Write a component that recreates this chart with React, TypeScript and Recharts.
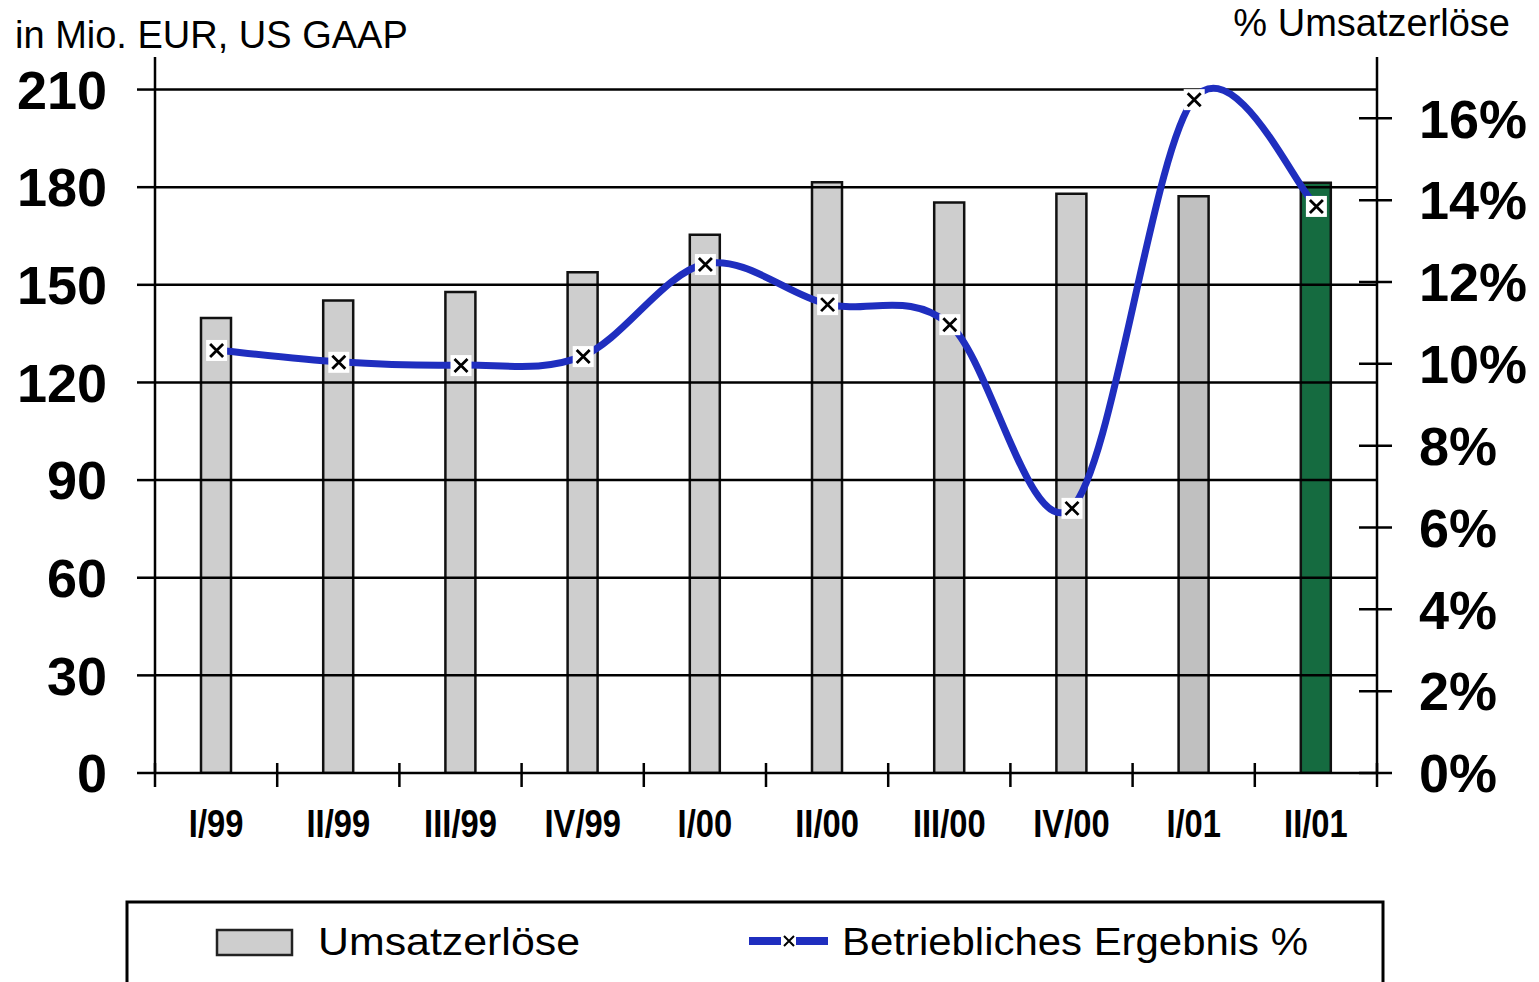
import React from 'react';
import { ComposedChart, Bar, Line, XAxis, YAxis, ReferenceLine, Cell } from 'recharts';

const quarters = ['I/99', 'II/99', 'III/99', 'IV/99', 'I/00', 'II/00', 'III/00', 'IV/00', 'I/01', 'II/01'];
const umsatz = [139.8, 145.2, 147.8, 153.9, 165.4, 181.5, 175.3, 178.0, 177.2, 181.4];
const ergebnis = [10.34, 10.05, 9.97, 10.19, 12.44, 11.46, 10.97, 6.48, 16.47, 13.86];
const leftTicks = [0, 30, 60, 90, 120, 150, 180, 210];
const rightTicks = [0, 2, 4, 6, 8, 10, 12, 14, 16];

const barFills = ['#cecece', '#cecece', '#cecece', '#cecece', '#cecece', '#cecece', '#cecece', '#cecece', '#c0c0c0', '#156b40'];

const data = quarters.map((q, i) => ({ q, umsatz: umsatz[i], ergebnis: ergebnis[i] }));

const BLUE = '#1f2ebf';
const FONT = '"Liberation Sans", Arial, sans-serif';

// Excel-style smoothing (Catmull-Rom bezier)
const excelSmooth = (context: any) => {
  let pts: number[][] = [];
  return {
    areaStart() {},
    areaEnd() {},
    lineStart() { pts = []; },
    point(x: number, y: number) { pts.push([+x, +y]); },
    lineEnd() {
      if (!pts.length) return;
      context.moveTo(pts[0][0], pts[0][1]);
      for (let i = 0; i < pts.length - 1; i++) {
        const p0 = pts[i - 1] || pts[i];
        const p1 = pts[i];
        const p2 = pts[i + 1];
        const p3 = pts[i + 2] || p2;
        context.bezierCurveTo(
          p1[0] + (p2[0] - p0[0]) / 6, p1[1] + (p2[1] - p0[1]) / 6,
          p2[0] - (p3[0] - p1[0]) / 6, p2[1] - (p3[1] - p1[1]) / 6,
          p2[0], p2[1]
        );
      }
    },
  };
};

const Marker = (props: any) => {
  const { cx, cy, index } = props;
  if (cx == null || cy == null) return null;
  return (
    <g key={`m${index}`}>
      <rect x={cx - 10} y={cy - 10} width={21} height={21} fill="#fff" />
      <path d={`M${cx - 6},${cy - 6}L${cx + 7},${cy + 7}M${cx + 7},${cy - 6}L${cx - 6},${cy + 7}`} stroke="#000" strokeWidth={2.8} />
    </g>
  );
};

const QuarterTick = (props: any) => {
  const { x, y, payload, index, visibleTicksCount } = props;
  const half = payload?.offset ?? 0;
  return (
    <g>
      <line x1={x - half} x2={x - half} y1={y - 10} y2={y + 14} stroke="#000" strokeWidth={2.5} />
      {index === visibleTicksCount - 1 && (
        <line x1={x + half} x2={x + half} y1={y - 10} y2={y + 14} stroke="#000" strokeWidth={2.5} />
      )}
      <text
        transform={`translate(${x},${y + 64}) scale(0.84,1)`}
        textAnchor="middle"
        fontFamily={FONT}
        fontWeight="bold"
        fontSize={39}
        fill="#000"
      >
        {payload.value}
      </text>
    </g>
  );
};

const PercentTick = (props: any) => {
  const { x, y, payload } = props;
  return (
    <g>
      <line x1={x - 18} x2={x + 15} y1={y} y2={y} stroke="#000" strokeWidth={2.5} />
      <text x={x + 42} y={y} dy="0.355em" textAnchor="start" fontFamily={FONT} fontWeight="bold" fontSize={54} fill="#000">
        {`${payload.value}%`}
      </text>
    </g>
  );
};

export default function App() {
  return (
    <div style={{ position: 'absolute', left: 0, top: 0, width: 1539, height: 982, background: '#fff', overflow: 'hidden' }}>
      <ComposedChart width={1539} height={982} data={data} margin={{ top: 57, right: 0, left: 0, bottom: 109 }}>
        <XAxis
          dataKey="q"
          height={100}
          axisLine={{ stroke: '#000', strokeWidth: 2.5 }}
          tickLine={false}
          tickSize={0}
          tickMargin={0}
          tick={<QuarterTick />}
          interval={0}
        />
        <YAxis
          yAxisId="left"
          orientation="left"
          width={155}
          domain={[0, 220]}
          ticks={leftTicks}
          allowDataOverflow
          axisLine={{ stroke: '#000', strokeWidth: 2.5 }}
          tickLine={{ stroke: '#000', strokeWidth: 2.5 }}
          tickSize={18}
          tickMargin={30}
          tick={{ fontFamily: FONT, fontWeight: 'bold', fontSize: 54, fill: '#000' }}
        />
        <YAxis
          yAxisId="right"
          orientation="right"
          width={162}
          domain={[0, 17.5]}
          ticks={rightTicks}
          allowDataOverflow
          axisLine={{ stroke: '#000', strokeWidth: 2.5 }}
          tickLine={false}
          tickSize={0}
          tickMargin={0}
          tick={<PercentTick />}
        />
        {leftTicks.filter((t) => t > 0).map((t) => (
          <ReferenceLine key={t} yAxisId="left" y={t} stroke="#000" strokeWidth={2.5} />
        ))}
        <Bar yAxisId="left" dataKey="umsatz" barSize={30} stroke="#111" strokeWidth={2.5} isAnimationActive={false}>
          {data.map((d, i) => (
            <Cell key={d.q} fill={barFills[i]} />
          ))}
        </Bar>
        <Line
          yAxisId="right"
          dataKey="ergebnis"
          type={excelSmooth as any}
          stroke={BLUE}
          strokeWidth={7}
          dot={<Marker />}
          activeDot={false}
          isAnimationActive={false}
        />
      </ComposedChart>
      <svg width={1539} height={982} style={{ position: 'absolute', left: 0, top: 0, pointerEvents: 'none' }}>
        <text x={15} y={48} fontFamily={FONT} fontSize={38} fill="#000">in Mio. EUR, US GAAP</text>
        <text x={1510} y={36} textAnchor="end" fontFamily={FONT} fontSize={38} fill="#000">% Umsatzerlöse</text>
        <rect x={127} y={902} width={1256} height={120} fill="none" stroke="#000" strokeWidth={3} />
        <rect x={217} y={930} width={75} height={25} fill="#cecece" stroke="#222" strokeWidth={2.5} />
        <text x={318} y={955} fontFamily={FONT} fontSize={38} fill="#000" textLength={262} lengthAdjust="spacingAndGlyphs">Umsatzerlöse</text>
        <line x1={749} x2={781} y1={941} y2={941} stroke={BLUE} strokeWidth={8} />
        <line x1={796} x2={828} y1={941} y2={941} stroke={BLUE} strokeWidth={8} />
        <path d="M784,936L794,946M794,936L784,946" stroke="#000" strokeWidth={2} />
        <text x={842} y={955} fontFamily={FONT} fontSize={38} fill="#000" textLength={466} lengthAdjust="spacingAndGlyphs">Betriebliches Ergebnis %</text>
      </svg>
    </div>
  );
}
